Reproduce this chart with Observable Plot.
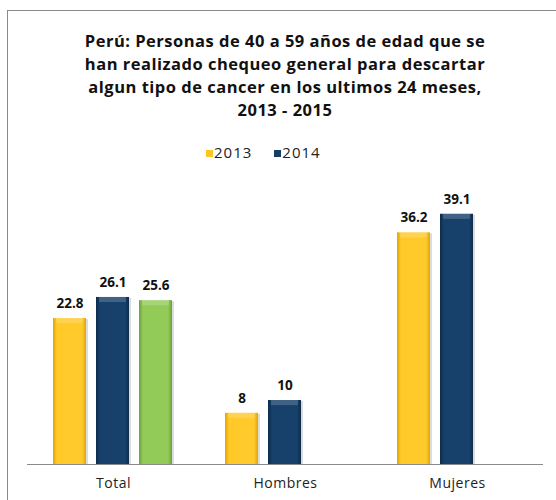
<!DOCTYPE html>
<html><head><meta charset="utf-8">
<script src="https://cdn.jsdelivr.net/npm/d3@7"></script>
<script src="https://cdn.jsdelivr.net/npm/@observablehq/plot@0.6"></script>
<style>
body{margin:0;background:#fff;font-family:"Open Sans",Lato,sans-serif;}
#wrap{position:relative;width:556px;height:500px;overflow:hidden;background:#fff;}
#frame{position:absolute;left:7px;top:10px;width:700px;height:700px;border-left:1px solid #8a8a8a;border-top:1px solid #8a8a8a;}
#title{position:absolute;left:0;top:29px;width:570px;text-align:center;font-weight:bold;font-size:16.5px;letter-spacing:0.5px;line-height:23px;color:#111;}
#legend{position:absolute;left:206px;top:142px;font-size:15px;letter-spacing:1px;color:#222;white-space:nowrap;}
#legend span.item{display:inline-block;margin-right:22px;}
#legend span.sw{display:inline-block;width:7px;height:7px;margin-right:1px;vertical-align:1px;}
#chart{position:absolute;left:0;top:165px;}
</style>
</head><body>
<div id="wrap">
  <div id="frame"></div>
  <div id="title">Perú: Personas de 40 a 59 años de edad que se<br>han realizado chequeo general para descartar<br>algun tipo de cancer en los ultimos 24 meses,<br>2013 - 2015</div>
  <div id="legend"></div>
  <div id="chart"></div>
</div>
<script>
const categories = ["Total", "Hombres", "Mujeres"];
const years = ["2013", "2014", "2015"];
const values2013 = [22.8, 8, 36.2];
const values2014 = [26.1, 10, 39.1];
const values2015 = [25.6, null, null];
const legendYears = ["2013", "2014"];
const colors = {"2013": "#FFC425", "2014": "#153D66", "2015": "#8CC653"};

const series = {"2013": values2013, "2014": values2014, "2015": values2015};
const rows = [];
categories.forEach((c, i) => {
  years.forEach(y => {
    const v = series[y][i];
    if (v != null) rows.push({category: c, year: y, value: v});
  });
});

// legend
const lg = document.getElementById("legend");
legendYears.forEach(y => {
  const s = document.createElement("span");
  s.className = "item";
  s.innerHTML = `<span class="sw" style="background:${colors[y]}"></span>${y}`;
  lg.appendChild(s);
});

const chart = Plot.plot({
  width: 556,
  height: 335,
  marginLeft: 27,
  marginRight: 13,
  marginTop: 11,
  marginBottom: 36,
  style: {fontFamily: "'Open Sans', Lato, sans-serif", background: "transparent"},
  fx: {domain: categories, padding: 0, label: null},
  x: {domain: years, axis: null, paddingInner: 0.23, paddingOuter: 0.57},
  y: {domain: [0, 45], axis: null},
  color: {domain: years, range: ["url(#g2013)", "url(#g2014)", "url(#g2015)"]},
  marks: [
    Plot.axisFx({anchor: "bottom", tickSize: 0, tickPadding: 14, fontSize: 14, label: null, fill: "#222"}),
    Plot.barY(rows, {fx: "category", x: "year", y: "value", fill: "#9a9a9a", dx: 2, dy: 1, opacity: 0.35}),
    Plot.barY(rows, {fx: "category", x: "year", y: "value", fill: "year"}),
    Plot.barY(rows, {fx: "category", x: "year", y1: d => d.value, y2: d => d.value - 0.8, fill: "white", fillOpacity: 0.18, insetLeft: 3, insetRight: 3}),
    Plot.ruleY([0], {stroke: "#8a8a8a", strokeWidth: 1}),
    Plot.text(rows, {fx: "category", x: "year", y: "value", text: d => String(d.value), dy: -15, fontWeight: "bold", fontSize: 13.5, fill: "#111"})
  ]
});

// gradients for bevelled bars
const svg = d3.select(chart.tagName.toLowerCase() === "svg" ? chart : chart.querySelector("svg"));
const defs = svg.insert("defs", ":first-child");
const grads = {
  "2013": ["#E3A500", "#FFC928", "#FFCA2C", "#E3A500"],
  "2014": ["#0E2B4A", "#17406B", "#17406B", "#0E2B4A"],
  "2015": ["#6E9E3A", "#93CB58", "#93CB58", "#6E9E3A"]
};
years.forEach(y => {
  const g = defs.append("linearGradient").attr("id", "g" + y).attr("x1", 0).attr("x2", 1).attr("y1", 0).attr("y2", 0);
  const c = grads[y];
  g.append("stop").attr("offset", "0%").attr("stop-color", c[0]);
  g.append("stop").attr("offset", "12%").attr("stop-color", c[1]);
  g.append("stop").attr("offset", "88%").attr("stop-color", c[2]);
  g.append("stop").attr("offset", "100%").attr("stop-color", c[3]);
});
svg.selectAll("g[aria-label='fx-axis tick label']").style("letter-spacing", "0.5px");

document.getElementById("chart").appendChild(chart);
</script>
</body></html>
